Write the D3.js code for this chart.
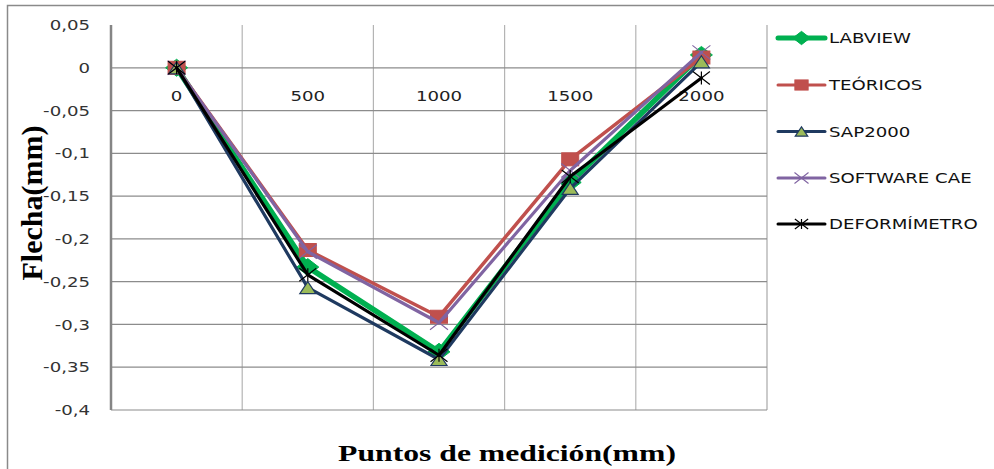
<!DOCTYPE html>
<html>
<head>
<meta charset="utf-8">
<script src="https://cdn.jsdelivr.net/npm/d3@7/dist/d3.min.js"></script>
<style>
  html, body { margin: 0; padding: 0; background: #fff; }
  svg { display: block; }
</style>
</head>
<body>
<svg id="chart" width="994" height="469"></svg>
<script>
// Measurement points along the beam (mm)
const categories = ["0", "500", "1000", "1500", "2000"];

// Deflection (mm) measured / computed at each point
const labview      = [0, -0.233, -0.332, -0.134, 0.015];
const teoricos     = [0, -0.213, -0.291, -0.107, 0.012];
const sap2000      = [0, -0.257, -0.341, -0.141, 0.007];
const softwareCae  = [0, -0.215, -0.298, -0.120, 0.018];
const deformimetro = [0, -0.242, -0.336, -0.127, -0.012];

const seriesNames = ["LABVIEW", "TEÓRICOS", "SAP2000", "SOFTWARE CAE", "DEFORMÍMETRO"];
const yTicks = [0.05, 0, -0.05, -0.1, -0.15, -0.2, -0.25, -0.3, -0.35, -0.4];

const svg = d3.select("#chart");
const W = 994, H = 469;
const plot = { left: 111, right: 767, top: 25, bottom: 410 };
const TXT_K = 1.25; // horizontal widening applied to sans text

function widen(sel, k) {
  sel.each(function () {
    const w = this.getComputedTextLength();
    this.setAttribute("textLength", w * k);
    this.setAttribute("lengthAdjust", "spacingAndGlyphs");
  });
}

// outer frame
svg.append("rect")
  .attr("x", 7.5).attr("y", 5.5).attr("width", 1200).attr("height", 800)
  .attr("fill", "none").attr("stroke", "#8a8a8a").attr("stroke-width", 1.5);

const x = d3.scaleBand().domain(categories).range([plot.left, plot.right]).padding(0);
const y = d3.scaleLinear().domain([-0.4, 0.05]).range([plot.bottom, plot.top]);
const cx = c => x(c) + x.bandwidth() / 2;

// vertical grid lines at category boundaries
const grid = svg.append("g");
categories.forEach((c, i) => {
  if (i === 0) return;
  grid.append("line")
    .attr("x1", x(c)).attr("x2", x(c))
    .attr("y1", y(0.05)).attr("y2", y(-0.4))
    .attr("stroke", "#b4b4b4").attr("stroke-width", 1.2);
});
grid.append("line")
  .attr("x1", plot.right).attr("x2", plot.right)
  .attr("y1", y(0.05)).attr("y2", y(-0.4))
  .attr("stroke", "#a8a8a8").attr("stroke-width", 1.2);

// horizontal grid lines
yTicks.filter(v => v <= 0).forEach(v => {
  grid.append("line")
    .attr("x1", plot.left).attr("x2", plot.right)
    .attr("y1", y(v)).attr("y2", y(v))
    .attr("stroke", "#8c8c8c").attr("stroke-width", 1.2);
});

// value axis
const fmt = v => String(+v.toFixed(2)).replace(".", ",");
const yAxis = svg.append("g")
  .attr("transform", `translate(${plot.left},0)`)
  .call(d3.axisLeft(y).tickValues(yTicks).tickFormat(fmt).tickSize(0).tickPadding(21));
yAxis.select(".domain").remove();
yAxis.selectAll("text")
  .attr("font-family", "DejaVu Sans").attr("font-size", 14.5).attr("fill", "#333");
widen(yAxis.selectAll("text"), TXT_K);
svg.append("line")
  .attr("x1", plot.left).attr("x2", plot.left)
  .attr("y1", y(0.05)).attr("y2", y(-0.4))
  .attr("stroke", "#858585").attr("stroke-width", 2.5);

// category axis sits on the zero line
const xAxis = svg.append("g")
  .attr("transform", `translate(0,${y(0)})`)
  .call(d3.axisBottom(x).tickSize(0).tickPadding(23));
xAxis.select(".domain").remove();
xAxis.selectAll("text")
  .attr("font-family", "DejaVu Sans").attr("font-size", 14.5).attr("fill", "#222");
widen(xAxis.selectAll("text"), TXT_K);

// marker shapes
function diamond(g, w, h, color) {
  g.append("path")
    .attr("d", `M0,${-h/2}L${w/2},0L0,${h/2}L${-w/2},0Z`)
    .attr("fill", color).attr("stroke", color).attr("stroke-width", 1);
}
function square(g, w, h, color) {
  g.append("rect").attr("x", -w/2).attr("y", -h/2).attr("width", w).attr("height", h)
    .attr("fill", color).attr("stroke", color).attr("stroke-width", 1);
}
function triangle(g, w, h, color, edge) {
  g.append("path")
    .attr("d", `M0,${-h/2}L${w/2},${h/2}L${-w/2},${h/2}Z`)
    .attr("fill", color).attr("stroke", edge).attr("stroke-width", 1.2);
}
function cross(g, w, h, color) {
  g.append("path")
    .attr("d", `M${-w/2},${-h/2}L${w/2},${h/2}M${w/2},${-h/2}L${-w/2},${h/2}`)
    .attr("fill", "none").attr("stroke", color).attr("stroke-width", 1.1);
}
function star(g, w, h, color) {
  g.append("path")
    .attr("d", `M${-w/2},${-h/2}L${w/2},${h/2}M${w/2},${-h/2}L${-w/2},${h/2}M0,${-h/2}L0,${h/2}`)
    .attr("fill", "none").attr("stroke", color).attr("stroke-width", 1.2);
}

const series = [
  { name: seriesNames[0], values: labview, color: "#00b050", width: 5.5,
    marker: (g, k) => diamond(g, 22 * k, 17 * k, "#00b050") },
  { name: seriesNames[1], values: teoricos, color: "#c0504d", width: 3.5,
    marker: (g, k) => square(g, 17 * k, 13 * k, "#c0504d") },
  { name: seriesNames[2], values: sap2000, color: "#1f3a60", width: 3.2,
    marker: (g, k) => triangle(g, 16 * k, 12 * k, "#9bbb59", "#1f3a60") },
  { name: seriesNames[3], values: softwareCae, color: "#8064a2", width: 3.2,
    marker: (g, k) => cross(g, 18 * k, 14 * k, "#8064a2") },
  { name: seriesNames[4], values: deformimetro, color: "#000000", width: 3.2,
    marker: (g, k) => star(g, 17 * k, 13 * k, "#000000") }
];

const line = d3.line().x((d, i) => cx(categories[i])).y(d => y(d));

const marks = svg.append("g");
series.forEach(s => {
  const g = marks.append("g");
  g.append("path")
    .attr("d", line(s.values))
    .attr("fill", "none").attr("stroke", s.color).attr("stroke-width", s.width)
    .attr("stroke-linejoin", "round").attr("stroke-linecap", "round");
  s.values.forEach((v, i) => {
    const m = g.append("g").attr("transform", `translate(${cx(categories[i])},${y(v)})`);
    s.marker(m, 1);
  });
});

// legend
const legend = svg.append("g");
const legY = [38, 85, 131.5, 178, 224];
series.forEach((s, i) => {
  const g = legend.append("g").attr("transform", `translate(0,${legY[i]})`);
  g.append("line").attr("x1", 778).attr("x2", 825).attr("y1", 0).attr("y2", 0)
    .attr("stroke", s.color).attr("stroke-width", i === 0 ? 5 : 3)
    .attr("stroke-linecap", "round");
  const m = g.append("g").attr("transform", "translate(801.5,0)");
  s.marker(m, 0.78);
  const t = g.append("text").attr("x", 829).attr("y", 0).attr("dy", "0.36em")
    .attr("font-family", "DejaVu Sans").attr("font-size", 14.5).attr("fill", "#111")
    .text(s.name);
  widen(t, TXT_K);
});

// axis titles
const xt = svg.append("text")
  .attr("x", 507).attr("y", 461).attr("text-anchor", "middle")
  .attr("font-family", "Liberation Serif").attr("font-weight", "bold")
  .attr("font-size", 24).attr("fill", "#000")
  .text("Puntos de medición(mm)");
widen(xt, 1.32);

svg.append("text")
  .attr("transform", "translate(42,203) rotate(-90)")
  .attr("text-anchor", "middle")
  .attr("font-family", "Liberation Serif").attr("font-weight", "bold")
  .attr("font-size", 30).attr("fill", "#000")
  .text("Flecha(mm)");
</script>
</body>
</html>
